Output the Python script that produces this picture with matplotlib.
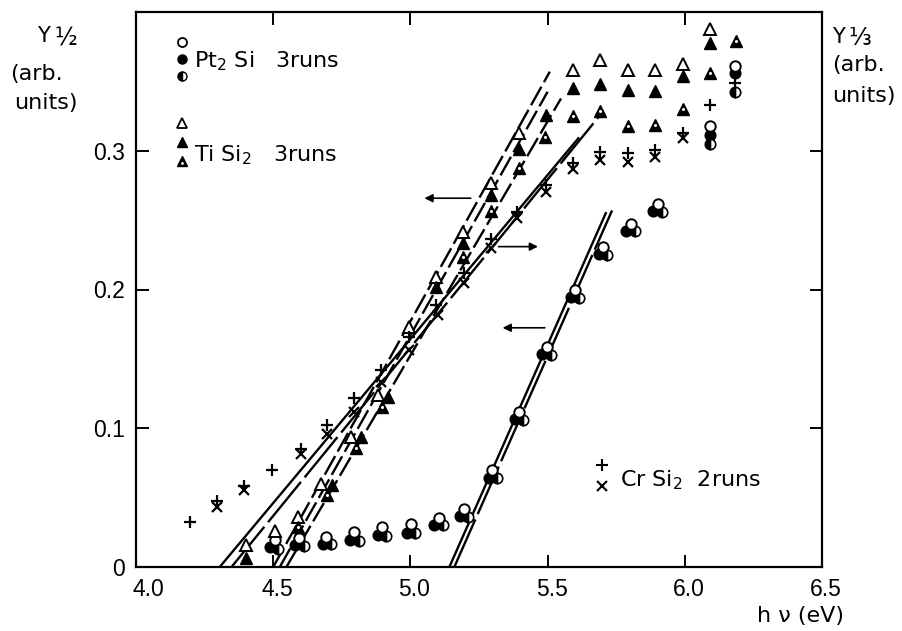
import matplotlib
matplotlib.use('Agg')
import matplotlib.pyplot as plt
import matplotlib.transforms as mtrans

# ---------------- data ----------------
# Pt2Si, three runs (open, filled, half-filled circles)
pt_open_x = [4.505, 4.594, 4.693, 4.796, 4.897, 5.003, 5.103, 5.194, 5.297, 5.394, 5.499, 5.600, 5.703, 5.803, 5.901, 6.093, 6.184]
pt_open_y = [0.0193, 0.0209, 0.0216, 0.0253, 0.0289, 0.0308, 0.0356, 0.0421, 0.0698, 0.1118, 0.1587, 0.1996, 0.2309, 0.2473, 0.2617, 0.3180, 0.3608]
pt_fill_x = [4.487, 4.578, 4.681, 4.781, 4.881, 4.987, 5.087, 5.181, 5.285, 5.381, 5.481, 5.584, 5.687, 5.786, 5.884, 6.093, 6.184]
pt_fill_y = [0.0144, 0.0157, 0.0169, 0.0193, 0.0229, 0.0248, 0.0306, 0.0366, 0.0642, 0.1064, 0.1535, 0.1944, 0.2254, 0.2424, 0.2566, 0.3115, 0.3560]
pt_half_x = [4.519, 4.611, 4.712, 4.812, 4.912, 5.018, 5.118, 5.211, 5.314, 5.412, 5.512, 5.615, 5.718, 5.818, 5.917, 6.093, 6.184]
pt_half_y = [0.0133, 0.0152, 0.0169, 0.0188, 0.0227, 0.0248, 0.0301, 0.0361, 0.0638, 0.1058, 0.1527, 0.1941, 0.2249, 0.2421, 0.2561, 0.3049, 0.3427]

# TiSi2, three runs (open, filled, dotted triangles)
ti_open_x = [4.400, 4.505, 4.590, 4.675, 4.784, 4.881, 4.994, 5.093, 5.190, 5.293, 5.394, 5.594, 5.690, 5.793, 5.893, 5.993, 6.093]
ti_open_y = [0.0156, 0.0260, 0.0360, 0.0600, 0.0934, 0.1239, 0.1732, 0.2088, 0.2417, 0.2770, 0.3127, 0.3584, 0.3651, 0.3579, 0.3579, 0.3627, 0.3877]
ti_fill_x = [4.400, 4.715, 4.820, 4.917, 5.093, 5.193, 5.293, 5.394, 5.493, 5.594, 5.690, 5.793, 5.893, 5.993, 6.093]
ti_fill_y = [0.0068, 0.0590, 0.0934, 0.1227, 0.2016, 0.2333, 0.2682, 0.3012, 0.3259, 0.3452, 0.3483, 0.3440, 0.3432, 0.3540, 0.3780]
ti_dot_x = [4.590, 4.696, 4.800, 4.896, 5.193, 5.293, 5.394, 5.490, 5.594, 5.690, 5.793, 5.893, 5.993, 6.093, 6.188]
ti_dot_y = [0.0289, 0.0517, 0.0861, 0.1154, 0.2232, 0.2569, 0.2874, 0.3102, 0.3252, 0.3290, 0.3180, 0.3187, 0.3300, 0.3560, 0.3788]

# CrSi2, two runs (+, x) -- right axis Y^(1/3)
cr_plus_x = [4.196, 4.297, 4.394, 4.496, 4.600, 4.696, 4.796, 4.893, 4.994, 5.093, 5.196, 5.295, 5.390, 5.493, 5.594, 5.690, 5.793, 5.893, 5.993, 6.093, 6.184]
cr_plus_y = [0.0325, 0.0476, 0.0582, 0.0698, 0.0847, 0.1022, 0.1215, 0.1419, 0.1660, 0.1888, 0.2117, 0.2364, 0.2561, 0.2754, 0.2915, 0.2994, 0.2983, 0.3007, 0.3131, 0.3331, 0.3488]
cr_x_x = [4.297, 4.394, 4.600, 4.696, 4.796, 4.893, 4.994, 5.099, 5.196, 5.295, 5.390, 5.493, 5.594, 5.690, 5.793, 5.893, 5.993]
cr_x_y = [0.0433, 0.0553, 0.0813, 0.0962, 0.1118, 0.1335, 0.1563, 0.1816, 0.2045, 0.2297, 0.2514, 0.2706, 0.2867, 0.2934, 0.2922, 0.2954, 0.3091]

# fitted straight lines (start/end points)
pt_fit_x = [[5.142, 5.712], [5.160, 5.735]]
pt_fit_y = [[0.0, 0.255], [0.0, 0.257]]
ti_fit_x = [[4.500, 5.508], [4.524, 5.500], [4.548, 5.549]]
ti_fit_y = [[0.0, 0.3570], [0.0, 0.3425], [0.0, 0.3377]]
cr_fit_x = [[4.305, 5.612], [4.348, 5.687]]
cr_fit_y = [[0.0, 0.3090], [0.0, 0.3246]]

x_ticks = [4.0, 4.5, 5.0, 5.5, 6.0, 6.5]
x_labels = ['4.0', '4.5', '5.0', '5.5', '6.0', '6.5']
y_ticks = [0.0, 0.1, 0.2, 0.3]
y_labels = ['0', '0.1', '0.2', '0.3']

# ---------------- style ----------------
plt.rcParams['font.family'] = ['DejaVu Sans']
plt.rcParams['mathtext.default'] = 'regular'
FS = 16
TICKFONT = ['Liberation Sans', 'DejaVu Sans']

fig = plt.figure(figsize=(9.03, 6.31), dpi=100)
W, H = 903, 631
L, R, T, B = 136, 822, 12, 567
ax = fig.add_axes([L / W, 1 - B / H, (R - L) / W, (B - T) / H])
ax.set_xlim(4.0, 6.5)
ax.set_ylim(0.0, 0.4)
for s in ax.spines.values():
    s.set_linewidth(1.6)

ax.set_xticks(x_ticks)
ax.set_xticklabels(x_labels, fontsize=16.5, family=TICKFONT)
ax.set_yticks(y_ticks)
ax.set_yticklabels(y_labels, fontsize=16.5, family=TICKFONT)
ax.tick_params(direction='in', length=9, width=1.4, top=True, right=True,
               labelright=False, labeltop=False)
ax.tick_params(axis='x', pad=8)
ax.tick_params(axis='y', pad=8)
shift = mtrans.ScaledTranslation(4 / 100, 0, fig.dpi_scale_trans)
for i, lab in enumerate(ax.get_xticklabels()):
    extra = mtrans.ScaledTranslation(8 / 100, 0, fig.dpi_scale_trans) if i == 0 else mtrans.Affine2D()
    lab.set_transform(lab.get_transform() + shift + extra)

lw = 1.7
dash_ti = (0, (9, 2.2))
dash_long = (0, (22, 2.5))
ax.plot(pt_fit_x[0], pt_fit_y[0], color='k', lw=lw, ls='-')
ax.plot(pt_fit_x[1], pt_fit_y[1], color='k', lw=lw, ls=dash_long)
for xs, ys in zip(ti_fit_x, ti_fit_y):
    ax.plot(xs, ys, color='k', lw=lw, ls=dash_ti)
ax.plot(cr_fit_x[0], cr_fit_y[0], color='k', lw=lw, ls='-')
ax.plot(cr_fit_x[1], cr_fit_y[1], color='k', lw=lw, ls=dash_long)

ms_c = 7.5
ax.plot(pt_fill_x, pt_fill_y, 'o', ms=ms_c, mfc='k', mec='k', mew=1.2, ls='none', zorder=3)
ax.plot(pt_half_x, pt_half_y, 'o', ms=ms_c, fillstyle='left', mfc='k', mfcalt='white', mec='k', mew=1.2, ls='none', zorder=3)
ax.plot(pt_open_x, pt_open_y, 'o', ms=ms_c, mfc='white', mec='k', mew=1.4, ls='none', zorder=4)

ms_t = 8.5
ax.plot(ti_open_x, ti_open_y, '^', ms=ms_t, mfc='white', mec='k', mew=1.4, ls='none', zorder=4)
ax.plot(ti_fill_x, ti_fill_y, '^', ms=ms_t, mfc='k', mec='k', mew=1.0, ls='none', zorder=4)
ax.plot(ti_dot_x, ti_dot_y, '^', ms=ms_t, mfc='k', mec='k', mew=1.0, ls='none', zorder=4)
ax.plot(ti_dot_x, ti_dot_y, 'o', ms=2.2, mfc='white', mec='none', ls='none', zorder=5)

ax.plot(cr_plus_x, cr_plus_y, '+', ms=9, mec='k', mew=1.6, ls='none', zorder=4)
ax.plot(cr_x_x, cr_x_y, 'x', ms=7, mec='k', mew=1.6, ls='none', zorder=4)

# arrows indicating which axis applies
arr = dict(arrowstyle='-|>', lw=1.2, color='k', mutation_scale=12, shrinkA=0, shrinkB=0)
ax.annotate('', xy=(5.051, 0.2658), xytext=(5.220, 0.2658), arrowprops=arr)
ax.annotate('', xy=(5.465, 0.2309), xytext=(5.321, 0.2309), arrowprops=arr)
ax.annotate('', xy=(5.336, 0.1724), xytext=(5.490, 0.1724), arrowprops=arr)

# legend (placed in pixel positions)
def px(x, y):
    return x / W, 1 - y / H

tf = fig.transFigure
ax.plot(*px(182, 42), 'o', ms=6.5, mfc='white', mec='k', mew=1.3, transform=tf, clip_on=False)
ax.plot(*px(182, 59), 'o', ms=6.5, mfc='k', mec='k', transform=tf, clip_on=False)
ax.plot(*px(182, 76), 'o', ms=6.5, fillstyle='left', mfc='k', mfcalt='white', mec='k', transform=tf, clip_on=False)
fig.text(*px(194, 67), 'Pt$_2$ Si   3runs', fontsize=FS, ha='left', va='baseline')

ax.plot(*px(182, 123), '^', ms=7.5, mfc='white', mec='k', mew=1.3, transform=tf, clip_on=False)
ax.plot(*px(182, 142), '^', ms=7.5, mfc='k', mec='k', transform=tf, clip_on=False)
ax.plot(*px(182, 161), '^', ms=7.5, mfc='k', mec='k', transform=tf, clip_on=False)
ax.plot(*px(182, 163), 'o', ms=2, mfc='white', mec='none', transform=tf, clip_on=False)
fig.text(*px(194, 161), 'Ti Si$_2$   3runs', fontsize=FS, ha='left', va='baseline')

ax.plot(*px(602, 465), '+', ms=8, mec='k', mew=1.5, transform=tf, clip_on=False)
ax.plot(*px(602, 486), 'x', ms=6.5, mec='k', mew=1.5, transform=tf, clip_on=False)
fig.text(*px(620, 486), 'Cr Si$_2$  2runs', fontsize=FS, ha='left', va='baseline')

# axis titles
fig.text(*px(37, 42), 'Y', fontsize=15, ha='left', va='baseline')
fig.text(*px(54, 46), '\u00bd', fontsize=17, ha='left', va='baseline')
fig.text(*px(10, 80), '(arb.', fontsize=FS, ha='left', va='baseline')
fig.text(*px(14, 109), 'units)', fontsize=FS, ha='left', va='baseline')

fig.text(*px(832, 43), 'Y', fontsize=15, ha='left', va='baseline')
fig.text(*px(848, 45), '\u2153', fontsize=17, ha='left', va='baseline')
fig.text(*px(832, 71), '(arb.', fontsize=FS, ha='left', va='baseline')
fig.text(*px(832, 102), 'units)', fontsize=FS, ha='left', va='baseline')

fig.text(*px(757, 622), 'h \u03bd (eV)', fontsize=FS, ha='left', va='baseline')

fig.savefig('out.png', dpi=100)
